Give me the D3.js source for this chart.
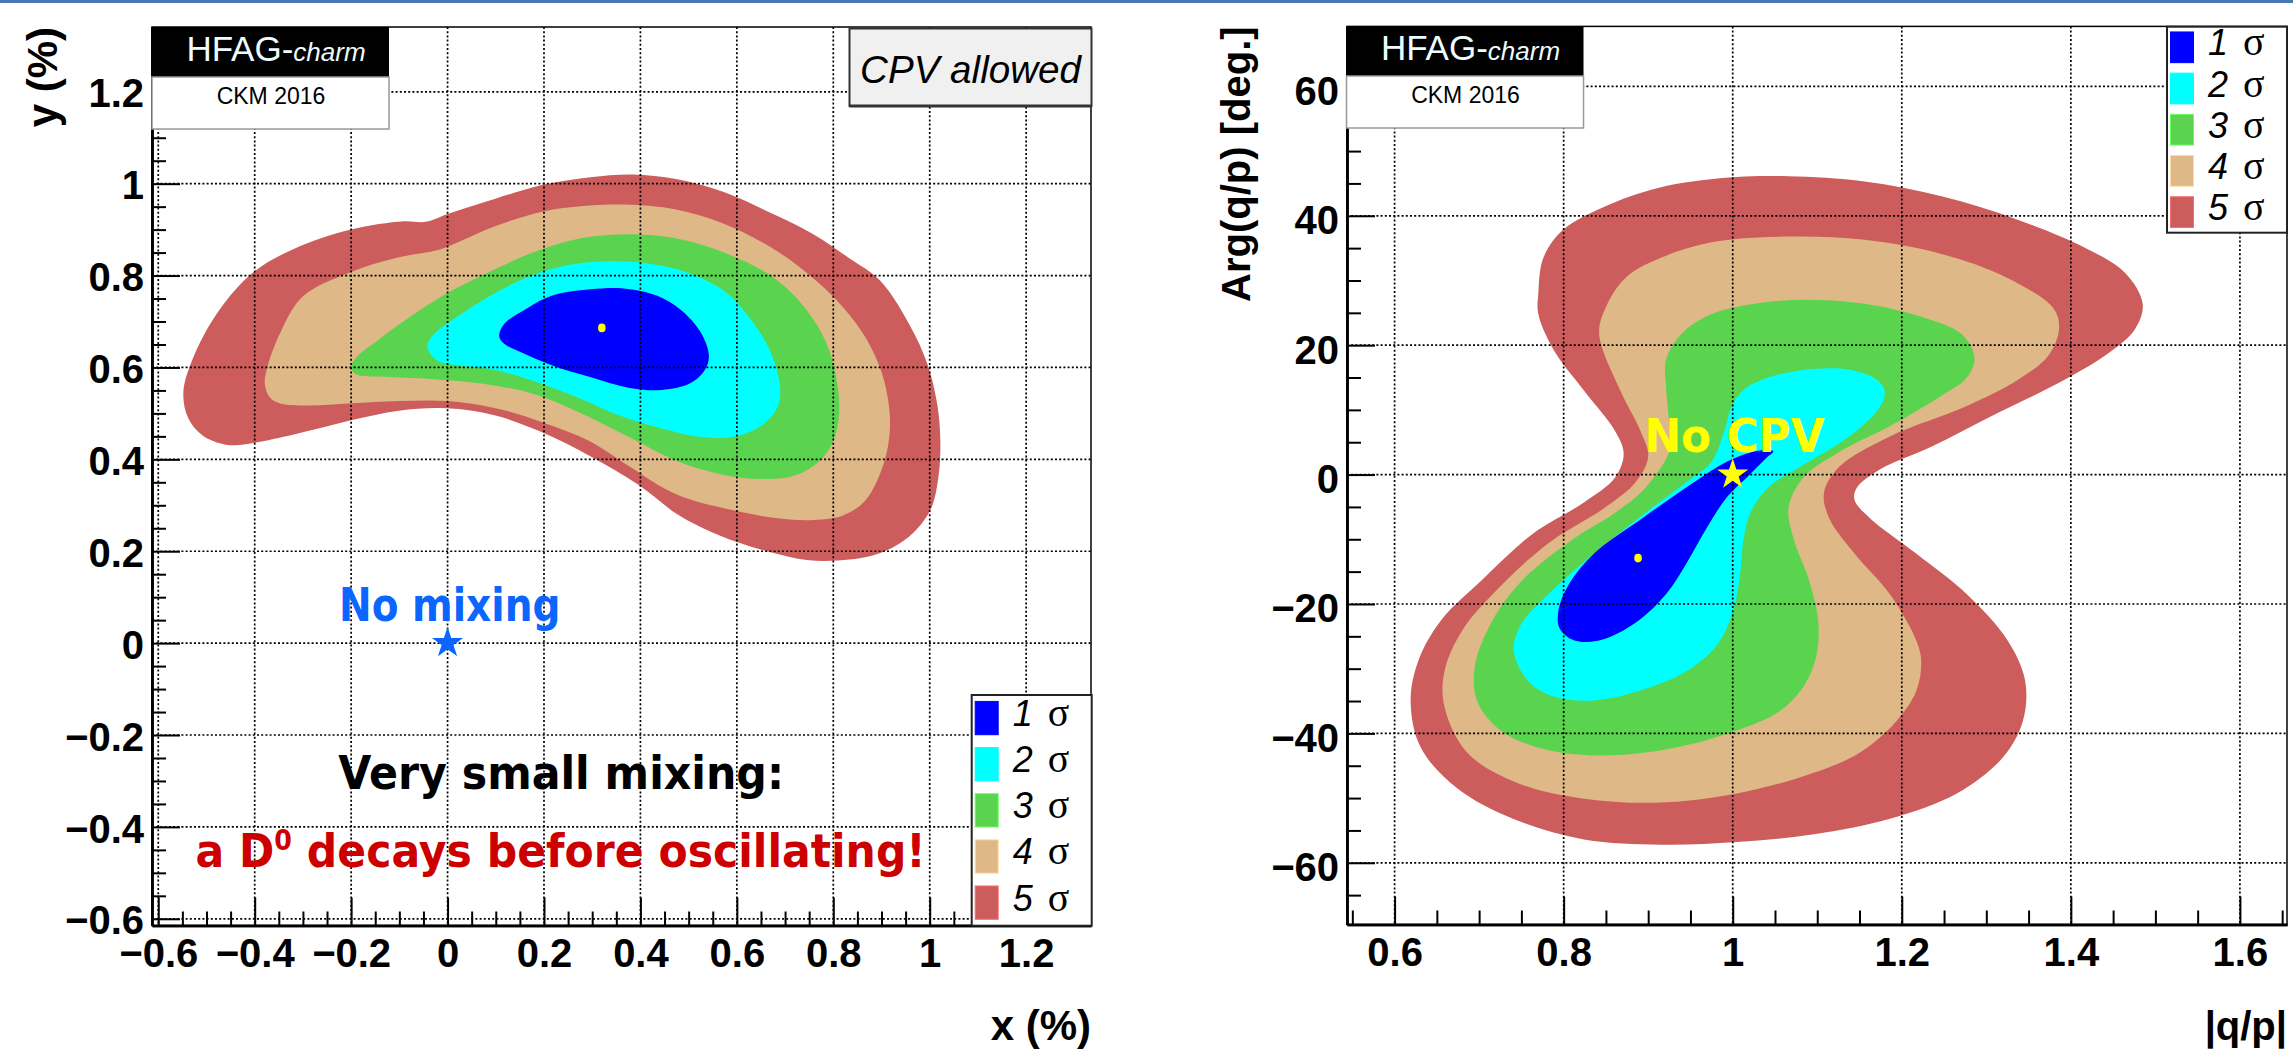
<!DOCTYPE html>
<html>
<head>
<meta charset="utf-8">
<script src="https://cdn.jsdelivr.net/npm/d3@7"></script>
<style>
  html, body { margin: 0; padding: 0; background: #fff; }
  svg { display: block; }
  .axis .tick text { font-family: "Liberation Sans", Arial, sans-serif; font-weight: bold; font-size: 40px; fill: #000; }
  .axis .tick line { stroke: #000; stroke-width: 2; }
  .axis path.domain { stroke: #000; stroke-width: 2.5; }
  text { white-space: pre; }
</style>
</head>
<body>
<svg id="chart" width="2293" height="1060"></svg>
<script>
// ---- data -----------------------------------------------------------------
const sigmaLabels = ['1', '2', '3', '4', '5'];
const sigmaColors = ['#0000ff', '#00ffff', '#5ad44f', '#deb887', '#cd5c5c'];

// left panel: x (%) vs y (%)
const xyTicksX = [-0.6, -0.4, -0.2, 0, 0.2, 0.4, 0.6, 0.8, 1, 1.2];
const xyTickLabelsX = ['\u22120.6', '\u22120.4', '\u22120.2', '0', '0.2', '0.4', '0.6', '0.8', '1', '1.2'];
const xyTicksY = [-0.6, -0.4, -0.2, 0, 0.2, 0.4, 0.6, 0.8, 1, 1.2];
const xyTickLabelsY = ['\u22120.6', '\u22120.4', '\u22120.2', '0', '0.2', '0.4', '0.6', '0.8', '1', '1.2'];

const xySigma1 = [[0.107,0.668],[0.117,0.694],[0.167,0.730],[0.216,0.756],[0.296,0.770],[0.365,0.772],[0.435,0.756],[0.484,0.725],[0.524,0.678],[0.542,0.626],[0.534,0.595],[0.504,0.566],[0.444,0.551],[0.375,0.556],[0.296,0.579],[0.216,0.605],[0.157,0.631],[0.117,0.652]];
const xySigma2 = [[-0.042,0.645],[-0.032,0.668],[0.018,0.709],[0.097,0.761],[0.177,0.801],[0.256,0.824],[0.350,0.831],[0.415,0.826],[0.494,0.808],[0.573,0.767],[0.633,0.699],[0.673,0.626],[0.690,0.553],[0.683,0.511],[0.653,0.475],[0.593,0.449],[0.524,0.449],[0.435,0.470],[0.355,0.496],[0.276,0.532],[0.196,0.564],[0.097,0.595],[0.018,0.605],[-0.022,0.615]];
const xySigma3 = [[-0.200,0.600],[-0.190,0.621],[-0.141,0.662],[-0.071,0.715],[-0.002,0.761],[0.077,0.803],[0.177,0.850],[0.276,0.881],[0.375,0.890],[0.474,0.881],[0.573,0.850],[0.673,0.798],[0.741,0.730],[0.785,0.655],[0.806,0.580],[0.812,0.500],[0.800,0.440],[0.770,0.395],[0.720,0.365],[0.650,0.357],[0.573,0.366],[0.474,0.397],[0.375,0.449],[0.276,0.501],[0.177,0.543],[0.077,0.564],[-0.022,0.574],[-0.121,0.579],[-0.190,0.585]];
const xySigma4 = [[-0.379,0.564],[-0.374,0.600],[-0.345,0.680],[-0.300,0.755],[-0.200,0.808],[-0.101,0.840],[-0.022,0.855],[0.018,0.871],[0.097,0.907],[0.196,0.939],[0.276,0.951],[0.380,0.954],[0.474,0.944],[0.573,0.913],[0.673,0.860],[0.752,0.800],[0.821,0.730],[0.870,0.660],[0.900,0.590],[0.915,0.520],[0.917,0.460],[0.905,0.392],[0.867,0.311],[0.820,0.278],[0.760,0.268],[0.690,0.271],[0.593,0.289],[0.474,0.324],[0.375,0.386],[0.296,0.439],[0.196,0.481],[0.097,0.512],[-0.002,0.527],[-0.101,0.527],[-0.200,0.522],[-0.290,0.517],[-0.349,0.522],[-0.369,0.535]];
const xySigma5 = [[-0.548,0.545],[-0.530,0.615],[-0.478,0.718],[-0.404,0.806],[-0.319,0.858],[-0.200,0.900],[-0.091,0.918],[-0.045,0.917],[0.000,0.934],[0.077,0.960],[0.196,0.997],[0.296,1.014],[0.385,1.020],[0.474,1.010],[0.573,0.982],[0.673,0.935],[0.755,0.892],[0.830,0.840],[0.897,0.789],[0.958,0.693],[0.996,0.605],[1.016,0.517],[1.022,0.443],[1.019,0.370],[1.004,0.296],[0.975,0.250],[0.935,0.215],[0.880,0.190],[0.810,0.180],[0.745,0.181],[0.670,0.198],[0.600,0.220],[0.530,0.250],[0.474,0.282],[0.395,0.345],[0.296,0.407],[0.196,0.459],[0.097,0.496],[-0.002,0.511],[-0.101,0.506],[-0.200,0.485],[-0.319,0.454],[-0.419,0.433],[-0.460,0.432],[-0.508,0.452],[-0.538,0.490]];
const xyBestFit = [0.320, 0.686];
const xyNoMixing = [0, 0];

// right panel: |q/p| vs Arg(q/p)
const qpTicksX = [0.6, 0.8, 1, 1.2, 1.4, 1.6];
const qpTickLabelsX = ['0.6', '0.8', '1', '1.2', '1.4', '1.6'];
const qpTicksY = [-60, -40, -20, 0, 20, 40, 60];
const qpTickLabelsY = ['\u221260', '\u221240', '\u221220', '0', '20', '40', '60'];

const qpSigma1 = [[1.048,3.6],[1.040,2.6],[1.017,-0.4],[0.993,-3.5],[0.969,-8.3],[0.945,-13.8],[0.921,-18.5],[0.885,-22.9],[0.843,-25.6],[0.812,-25.6],[0.795,-23.7],[0.794,-20.9],[0.806,-17.0],[0.836,-12.2],[0.885,-7.5],[0.945,-2.0],[0.993,2.0],[1.030,3.7]];
const qpSigma2 = [[0.999,10.6],[1.012,13.0],[1.042,15.0],[1.096,16.3],[1.138,16.2],[1.171,14.6],[1.180,12.6],[1.171,9.9],[1.138,5.9],[1.090,2.0],[1.042,-2.0],[1.021,-5.9],[1.013,-9.9],[1.008,-16.2],[0.999,-21.7],[0.981,-26.4],[0.945,-30.4],[0.897,-33.1],[0.836,-34.9],[0.788,-34.3],[0.758,-31.9],[0.741,-27.2],[0.749,-23.3],[0.782,-18.5],[0.836,-12.2],[0.897,-5.9],[0.945,-1.2],[0.975,2.0],[0.990,6.7]];
const qpSigma3 = [[0.921,13.8],[0.921,17.7],[0.939,21.7],[0.975,24.8],[1.036,26.6],[1.096,27.0],[1.156,26.4],[1.223,24.4],[1.271,21.7],[1.286,18.1],[1.277,15.0],[1.247,12.2],[1.186,7.5],[1.126,3.5],[1.084,-0.4],[1.066,-5.1],[1.072,-9.9],[1.090,-16.2],[1.101,-22.5],[1.099,-28.0],[1.084,-32.7],[1.054,-36.7],[0.999,-39.8],[0.933,-42.2],[0.855,-43.4],[0.782,-42.6],[0.728,-39.8],[0.698,-35.1],[0.695,-29.6],[0.716,-22.5],[0.752,-16.2],[0.812,-9.9],[0.861,-5.9],[0.897,-2.0],[0.927,4.3],[0.924,9.1]];
const qpSigma4 = [[0.842,21.7],[0.849,25.6],[0.873,30.4],[0.915,33.5],[0.975,35.9],[1.066,36.8],[1.156,36.3],[1.247,34.1],[1.325,30.4],[1.380,25.6],[1.386,22.5],[1.374,18.5],[1.337,14.6],[1.277,10.6],[1.186,5.9],[1.126,1.2],[1.108,-2.8],[1.114,-6.7],[1.144,-12.2],[1.186,-18.5],[1.217,-25.6],[1.223,-28.8],[1.217,-33.5],[1.193,-38.2],[1.150,-43.0],[1.096,-46.1],[1.005,-49.3],[0.915,-50.7],[0.824,-50.1],[0.746,-47.7],[0.686,-43.0],[0.659,-35.9],[0.659,-30.4],[0.680,-24.1],[0.722,-17.7],[0.782,-10.6],[0.849,-5.1],[0.885,-1.2],[0.900,2.8],[0.891,6.7],[0.867,13.0]];
const qpSigma5 = [[0.770,28.0],[0.776,33.5],[0.800,37.9],[0.855,41.8],[0.921,44.6],[1.005,46.0],[1.066,46.1],[1.156,45.3],[1.247,43.0],[1.337,39.4],[1.416,35.1],[1.464,31.2],[1.485,26.4],[1.476,22.5],[1.446,18.9],[1.392,14.6],[1.307,9.1],[1.235,4.3],[1.174,0.8],[1.147,-2.0],[1.144,-3.9],[1.162,-6.7],[1.217,-12.2],[1.277,-18.5],[1.325,-25.6],[1.346,-31.9],[1.343,-38.2],[1.319,-43.8],[1.265,-49.3],[1.186,-53.2],[1.096,-55.6],[1.005,-56.8],[0.915,-57.2],[0.824,-56.4],[0.740,-53.2],[0.674,-48.5],[0.631,-42.2],[0.619,-35.1],[0.628,-28.8],[0.655,-22.5],[0.704,-16.2],[0.764,-9.1],[0.824,-4.3],[0.861,-0.4],[0.871,3.2],[0.861,6.7],[0.824,13.0],[0.788,19.3],[0.770,24.8]];
const qpBestFit = [0.888, -12.9];
const qpNoCPV = [1, 0];

// ---- drawing --------------------------------------------------------------
const svg = d3.select('#chart');
svg.append('rect').attr('width', 2293).attr('height', 3).attr('fill', '#4a78b0');

function fittedText(parent, x, baseline, width, size, color, parts) {
  const g = parent.append('g');
  const t = g.append('text')
    .attr('font-family', '"DejaVu Sans", sans-serif')
    .attr('font-weight', 'bold')
    .attr('font-size', size)
    .attr('fill', color);
  parts.forEach(p => {
    const s = t.append('tspan').text(p.text);
    if (p.size) s.attr('font-size', p.size);
    if (p.dy) s.attr('dy', p.dy);
  });
  const bb = t.node().getBBox();
  const k = width / bb.width;
  g.attr('transform', `translate(${x - bb.x * k},${baseline}) scale(${k},1)`);
}

function drawLegend(box) {
  const lg = svg.append('g');
  lg.append('rect')
    .attr('x', box.x).attr('y', box.y).attr('width', box.w).attr('height', box.h)
    .attr('fill', '#fff').attr('stroke', '#222').attr('stroke-width', 2);
  const rowH = box.h / sigmaLabels.length;
  const rows = lg.selectAll('g')
    .data(sigmaLabels)
    .join('g')
    .attr('transform', (d, i) => `translate(${box.x},${box.y + rowH * (i + 0.5)})`);
  rows.append('rect')
    .attr('x', 3.5).attr('y', -box.sw / 2).attr('width', 23).attr('height', box.sw)
    .attr('fill', (d, i) => sigmaColors[i])
    .attr('stroke', (d, i) => d3.color(sigmaColors[i]).brighter(0.5))
    .attr('stroke-width', 1);
  const t = rows.append('text').attr('x', 41).attr('y', 8);
  t.append('tspan')
    .attr('font-family', '"Liberation Sans", Arial, sans-serif')
    .attr('font-style', 'italic').attr('font-size', 36)
    .text(d => d);
  t.append('tspan')
    .attr('dx', 15)
    .attr('font-family', '"Liberation Serif", "Times New Roman", serif')
    .attr('font-size', 40)
    .text('\u03c3');
}

function drawHfagBox(left, top) {
  const hb = svg.append('g').attr('transform', `translate(${left},${top})`);
  hb.append('rect').attr('width', 237).attr('height', 50).attr('fill', '#000');
  hb.append('rect').attr('y', 50).attr('width', 237).attr('height', 52)
    .attr('fill', '#fff').attr('stroke', '#999').attr('stroke-width', 1.5);
  const t = hb.append('text').attr('x', 124).attr('y', 34).attr('text-anchor', 'middle')
    .attr('font-family', '"Liberation Sans", Arial, sans-serif').attr('fill', '#eefcff');
  t.append('tspan').attr('font-size', 35).text('HFAG-');
  t.append('tspan').attr('font-size', 26).attr('font-style', 'italic').text('charm');
  hb.append('text').attr('x', 119).attr('y', 77).attr('text-anchor', 'middle')
    .attr('font-family', '"Liberation Sans", Arial, sans-serif').attr('font-size', 23)
    .attr('fill', '#000').text('CKM 2016');
}

function minorValues(domain, step, majors) {
  return d3.range(Math.ceil(domain[0] / step - 1e-9), Math.floor(domain[1] / step + 1e-9) + 1)
    .map(k => +(k * step).toFixed(6))
    .filter(v => !majors.some(m => Math.abs(m - v) < step / 10));
}

function drawPanel(p) {
  const x = d3.scaleLinear().domain(p.xDomain).range([p.left, p.right]);
  const y = d3.scaleLinear().domain(p.yDomain).range([p.bottom, p.top]);
  const g = svg.append('g');

  g.append('clipPath').attr('id', p.id + '-clip').append('rect')
    .attr('x', p.left).attr('y', p.top)
    .attr('width', p.right - p.left).attr('height', p.bottom - p.top);

  const contour = d3.line()
    .x(d => x(d[0]))
    .y(d => y(d[1]))
    .curve(d3.curveCatmullRomClosed.alpha(0.5));

  // outer (5 sigma) first, inner (1 sigma) on top
  g.append('g').attr('clip-path', `url(#${p.id}-clip)`)
    .selectAll('path')
    .data(p.contours.map((c, i) => ({ c, i })).reverse())
    .join('path')
    .attr('d', d => contour(d.c))
    .attr('fill', d => sigmaColors[d.i]);

  g.append('ellipse')
    .attr('cx', x(p.best[0])).attr('cy', y(p.best[1]))
    .attr('rx', 3.8).attr('ry', 4.4).attr('fill', '#ffff00');

  // dotted grid on top of the contours
  const grid = g.append('g')
    .attr('stroke', '#000').attr('stroke-width', 1.7)
    .attr('stroke-dasharray', '2,2.2').attr('fill', 'none');
  grid.append('g').selectAll('line').data(p.xTicks).join('line')
    .attr('x1', d => x(d)).attr('x2', d => x(d))
    .attr('y1', p.top).attr('y2', p.bottom);
  grid.append('g').selectAll('line').data(p.yTicks).join('line')
    .attr('x1', p.left).attr('x2', p.right)
    .attr('y1', d => y(d)).attr('y2', d => y(d));

  const label = (ticks, labels) => d => labels[ticks.findIndex(t => Math.abs(t - d) < 1e-9)];

  g.append('g').attr('class', 'axis')
    .attr('transform', `translate(0,${p.bottom})`)
    .call(d3.axisBottom(x).tickValues(minorValues(p.xDomain, p.xMinor, p.xTicks))
      .tickFormat(() => '').tickSize(-14).tickSizeOuter(0));
  g.append('g').attr('class', 'axis')
    .attr('transform', `translate(0,${p.bottom})`)
    .call(d3.axisBottom(x).tickValues(p.xTicks).tickFormat(label(p.xTicks, p.xTickLabels))
      .tickSize(-28).tickSizeOuter(0).tickPadding(13));

  g.append('g').attr('class', 'axis')
    .attr('transform', `translate(${p.left},0)`)
    .call(d3.axisLeft(y).tickValues(minorValues(p.yDomain, p.yMinor, p.yTicks))
      .tickFormat(() => '').tickSize(-14).tickSizeOuter(0));
  g.append('g').attr('class', 'axis')
    .attr('transform', `translate(${p.left},0)`)
    .call(d3.axisLeft(y).tickValues(p.yTicks).tickFormat(label(p.yTicks, p.yTickLabels))
      .tickSize(-28).tickSizeOuter(0).tickPadding(8))
    .selectAll('.tick text').attr('dy', p.yLabelDy);

  g.append('rect')
    .attr('x', p.left).attr('y', p.top)
    .attr('width', p.right - p.left).attr('height', p.bottom - p.top)
    .attr('fill', 'none').attr('stroke', '#000').attr('stroke-width', 1.5);

  // axis titles
  g.append('text')
    .attr('x', p.right).attr('y', 1040).attr('text-anchor', 'end')
    .attr('font-family', '"Liberation Sans", Arial, sans-serif')
    .attr('font-weight', 'bold').attr('font-size', p.titleSize)
    .text(p.xTitle);
  g.append('text')
    .attr('transform', `translate(${p.yTitleX},${p.top}) rotate(-90)`)
    .attr('text-anchor', 'end')
    .attr('font-family', '"Liberation Sans", Arial, sans-serif')
    .attr('font-weight', 'bold').attr('font-size', p.titleSize)
    .text(p.yTitle);

  // reference star
  g.append('path')
    .attr('transform', `translate(${x(p.star[0])},${y(p.star[1])})`)
    .attr('d', d3.symbol(d3.symbolStar, 300)())
    .attr('fill', p.starColor);

  p.notes.forEach(n => {
    fittedText(g, x(n.x0), y(n.y), x(n.x1) - x(n.x0), n.size, n.color, n.parts);
  });

  return { x, y };
}

// left panel
drawPanel({
  id: 'xy',
  left: 152, right: 1091, top: 27, bottom: 925.5,
  xDomain: [-0.613, 1.3345], yDomain: [-0.6146, 1.341],
  xTicks: xyTicksX, xTickLabels: xyTickLabelsX, xMinor: 0.05,
  yTicks: xyTicksY, yTickLabels: xyTickLabelsY, yMinor: 0.05,
  yLabelDy: '0.38em',
  contours: [xySigma1, xySigma2, xySigma3, xySigma4, xySigma5],
  best: xyBestFit,
  star: xyNoMixing, starColor: '#0a66ff',
  xTitle: 'x (%)', yTitle: 'y (%)', titleSize: 42, yTitleX: 57,
  notes: [
    { x0: -0.225, x1: 0.234, y: 0.049, size: 46, color: '#0a66ff', parts: [{ text: 'No mixing' }] },
    { x0: -0.2267, x1: 0.6983, y: -0.3175, size: 46, color: '#000', parts: [{ text: 'Very small mixing:' }] },
    { x0: -0.5228, x1: 0.9921, y: -0.4866, size: 47, color: '#cc0000',
      parts: [{ text: 'a D' }, { text: '0', size: 28, dy: -17 }, { text: ' decays before oscillating!', dy: 17 }] }
  ]
});

// right panel
drawPanel({
  id: 'qp',
  left: 1347, right: 2287, top: 26.4, bottom: 924.5,
  xDomain: [0.5437, 1.6557], yDomain: [-69.54, 69.27],
  xTicks: qpTicksX, xTickLabels: qpTickLabelsX, xMinor: 0.05,
  yTicks: qpTicksY, yTickLabels: qpTickLabelsY, yMinor: 5,
  yLabelDy: '0.45em',
  contours: [qpSigma1, qpSigma2, qpSigma3, qpSigma4, qpSigma5],
  best: qpBestFit,
  star: qpNoCPV, starColor: '#ffff00',
  xTitle: '|q/p|', yTitle: 'Arg(q/p) [deg.]', titleSize: 40, yTitleX: 1250,
  notes: [
    { x0: 0.8956, x1: 1.1092, y: 3.55, size: 46, color: '#ffff00', parts: [{ text: 'No CPV' }] }
  ]
});

// boxes and legends drawn last
drawHfagBox(152, 27);
drawHfagBox(1346.5, 26);

const cpv = svg.append('g');
cpv.append('rect')
  .attr('x', 849.5).attr('y', 28.5).attr('width', 242).attr('height', 77.5)
  .attr('fill', '#f0f0f0').attr('stroke', '#333').attr('stroke-width', 2);
cpv.append('line')
  .attr('x1', 849.5).attr('x2', 1091.5).attr('y1', 106).attr('y2', 106)
  .attr('stroke', '#333').attr('stroke-width', 3);
cpv.append('text')
  .attr('x', 970.5).attr('y', 82.7).attr('text-anchor', 'middle')
  .attr('font-family', '"Liberation Sans", Arial, sans-serif')
  .attr('font-style', 'italic').attr('font-size', 38.6)
  .text('CPV allowed');

drawLegend({ x: 971.7, y: 695, w: 120, h: 230.7, sw: 33.3 });
drawLegend({ x: 2167, y: 26.7, w: 120, h: 206, sw: 30.7 });
</script>
</body>
</html>
